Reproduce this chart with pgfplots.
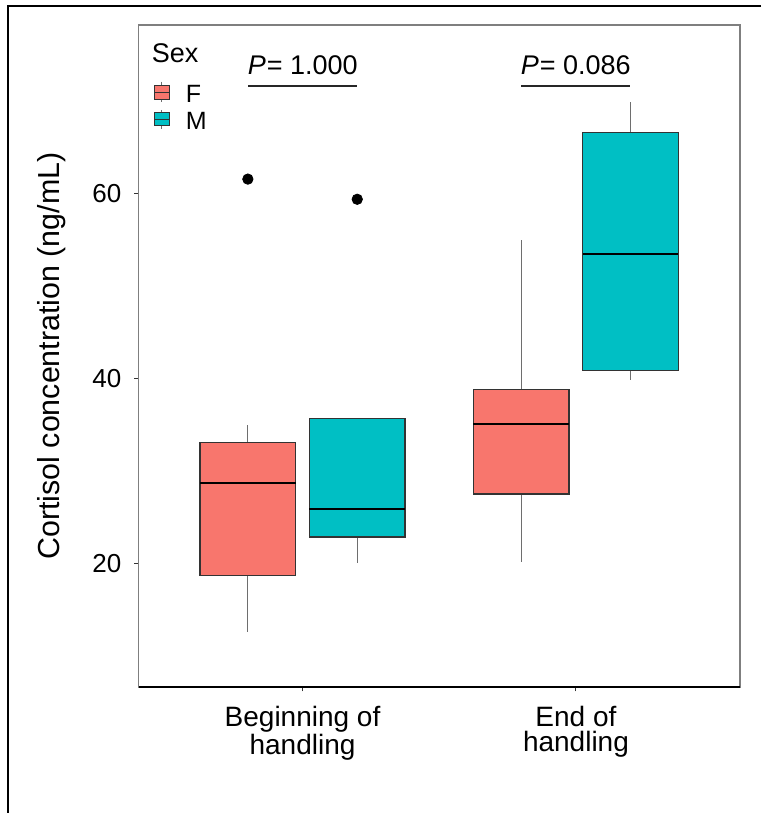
\documentclass[border=0pt]{standalone}
\usepackage{fontspec}
\setmainfont{Liberation Sans}
\usepackage{pgfplots}
\pgfplotsset{compat=1.18}
\usepgfplotslibrary{statistics}

\definecolor{Fcol}{HTML}{F8766D}
\definecolor{Mcol}{HTML}{00BFC4}
\definecolor{boxline}{HTML}{333333}
\definecolor{whisk}{HTML}{6E6E6E}
\definecolor{panel}{HTML}{7F7F7F}

% ggplot-like box style
\pgfplotsset{
  ggbox/.style={
    boxplot/draw direction=y,
    boxplot/every box/.style={draw=boxline, line width=0.7pt, fill=#1},
    boxplot/every whisker/.style={draw=whisk, line width=0.6pt},
    boxplot/every median/.style={draw=black, line width=1pt},
    mark=*, mark size=2.6pt, mark options={draw=black, fill=black},
  }
}

\begin{document}
\begin{tikzpicture}
\useasboundingbox (0pt,0pt) rectangle (380.5pt,-406.5pt);

\begin{axis}[
  at={(69.25pt,-343.5pt)}, anchor=south west,
  scale only axis, width=300.75pt, height=331pt,
  xmin=0.4, xmax=2.6, ymin=6.67, ymax=78.24,
  xtick={1,2},
  xticklabels={{Beginning of\\handling},{End of\\handling}},
  ytick={20,40,60},
  tick pos=left, tick align=outside, major tick length=2.2pt,
  tick style={draw=boxline, line width=0.5pt},
  axis line style={draw=panel, line width=0.7pt},
  xticklabel style={font=\fontsize{14}{12.5}\selectfont, align=center, inner sep=0pt, yshift=-7.3pt},
  yticklabel style={font=\fontsize{13}{15}\selectfont, inner sep=0pt, xshift=-6.2pt},
  ylabel={Cortisol concentration (ng/mL)},
  ylabel style={font=\fontsize{15.2}{18}\selectfont, at={(axis description cs:-0.1194,0.5)}, anchor=south, inner sep=0pt},
  /pgf/number format/assume math mode=true,
  clip=false,
]
% Beginning of handling
\addplot[ggbox=Fcol, boxplot prepared={draw position=0.8, box extend=0.35, whisker extend=0,
  lower whisker=12.58, lower quartile=18.70, median=28.76, upper quartile=33.08, upper whisker=35.0}]
  coordinates {(0.8,61.58)};
\addplot[ggbox=Mcol, boxplot prepared={draw position=1.2, box extend=0.35, whisker extend=0,
  lower whisker=20.08, lower quartile=22.89, median=25.88, upper quartile=35.72, upper whisker=35.72}]
  coordinates {(1.2,59.4)};
% End of handling
\addplot[ggbox=Fcol, boxplot prepared={draw position=1.8, box extend=0.35, whisker extend=0,
  lower whisker=20.15, lower quartile=27.54, median=35.07, upper quartile=38.85, upper whisker=55.0}]
  coordinates {};
\addplot[ggbox=Mcol, boxplot prepared={draw position=2.2, box extend=0.35, whisker extend=0,
  lower whisker=39.83, lower quartile=40.86, median=53.45, upper quartile=66.64, upper whisker=69.88}]
  coordinates {};
\draw[black, line width=0.8pt] (rel axis cs:0,0) -- (rel axis cs:1,0);
\end{axis}

\begin{scope}[x=0.5pt, y=-0.5pt]
  % outer frame (cropped)
  \draw[black, line width=1pt] (761,5.7) -- (8.3,5.7) -- (8.3,813);
  % legend
  \node[anchor=base west, inner sep=0pt, font=\fontsize{13.5}{16}\selectfont] at (151.5,63) {Sex};
  \draw[whisk, line width=0.5pt] (161.8,81.7) -- (161.8,102);
  \draw[boxline, fill=Fcol, line width=0.5pt] (154.3,86) rectangle (169.3,99.3);
  \draw[boxline, line width=0.6pt] (154.3,92.7) -- (169.3,92.7);
  \draw[whisk, line width=0.5pt] (161.8,110) -- (161.8,129);
  \draw[boxline, fill=Mcol, line width=0.5pt] (154.3,112.7) rectangle (169.3,125.7);
  \draw[boxline, line width=0.6pt] (154.3,119.2) -- (169.3,119.2);
  \node[anchor=base west, inner sep=0pt, font=\fontsize{12.5}{14}\selectfont] at (185.4,102.7) {F};
  \node[anchor=base west, inner sep=0pt, font=\fontsize{12.5}{14}\selectfont] at (185.4,129.3) {M};
  % P-value annotations
  \node[anchor=base, inner sep=0pt, font=\fontsize{13.5}{16}\selectfont] at (302.8,75) {\textit{P}\kern0.5pt= 1.000};
  \draw[black!85, line width=0.9pt] (248.3,86) -- (357.3,86);
  \node[anchor=base, inner sep=0pt, font=\fontsize{13.5}{16}\selectfont] at (575.8,75) {\textit{P}\kern0.5pt= 0.086};
  \draw[black!85, line width=0.9pt] (521.2,86) -- (630.3,86);
\end{scope}
\end{tikzpicture}
\end{document}
